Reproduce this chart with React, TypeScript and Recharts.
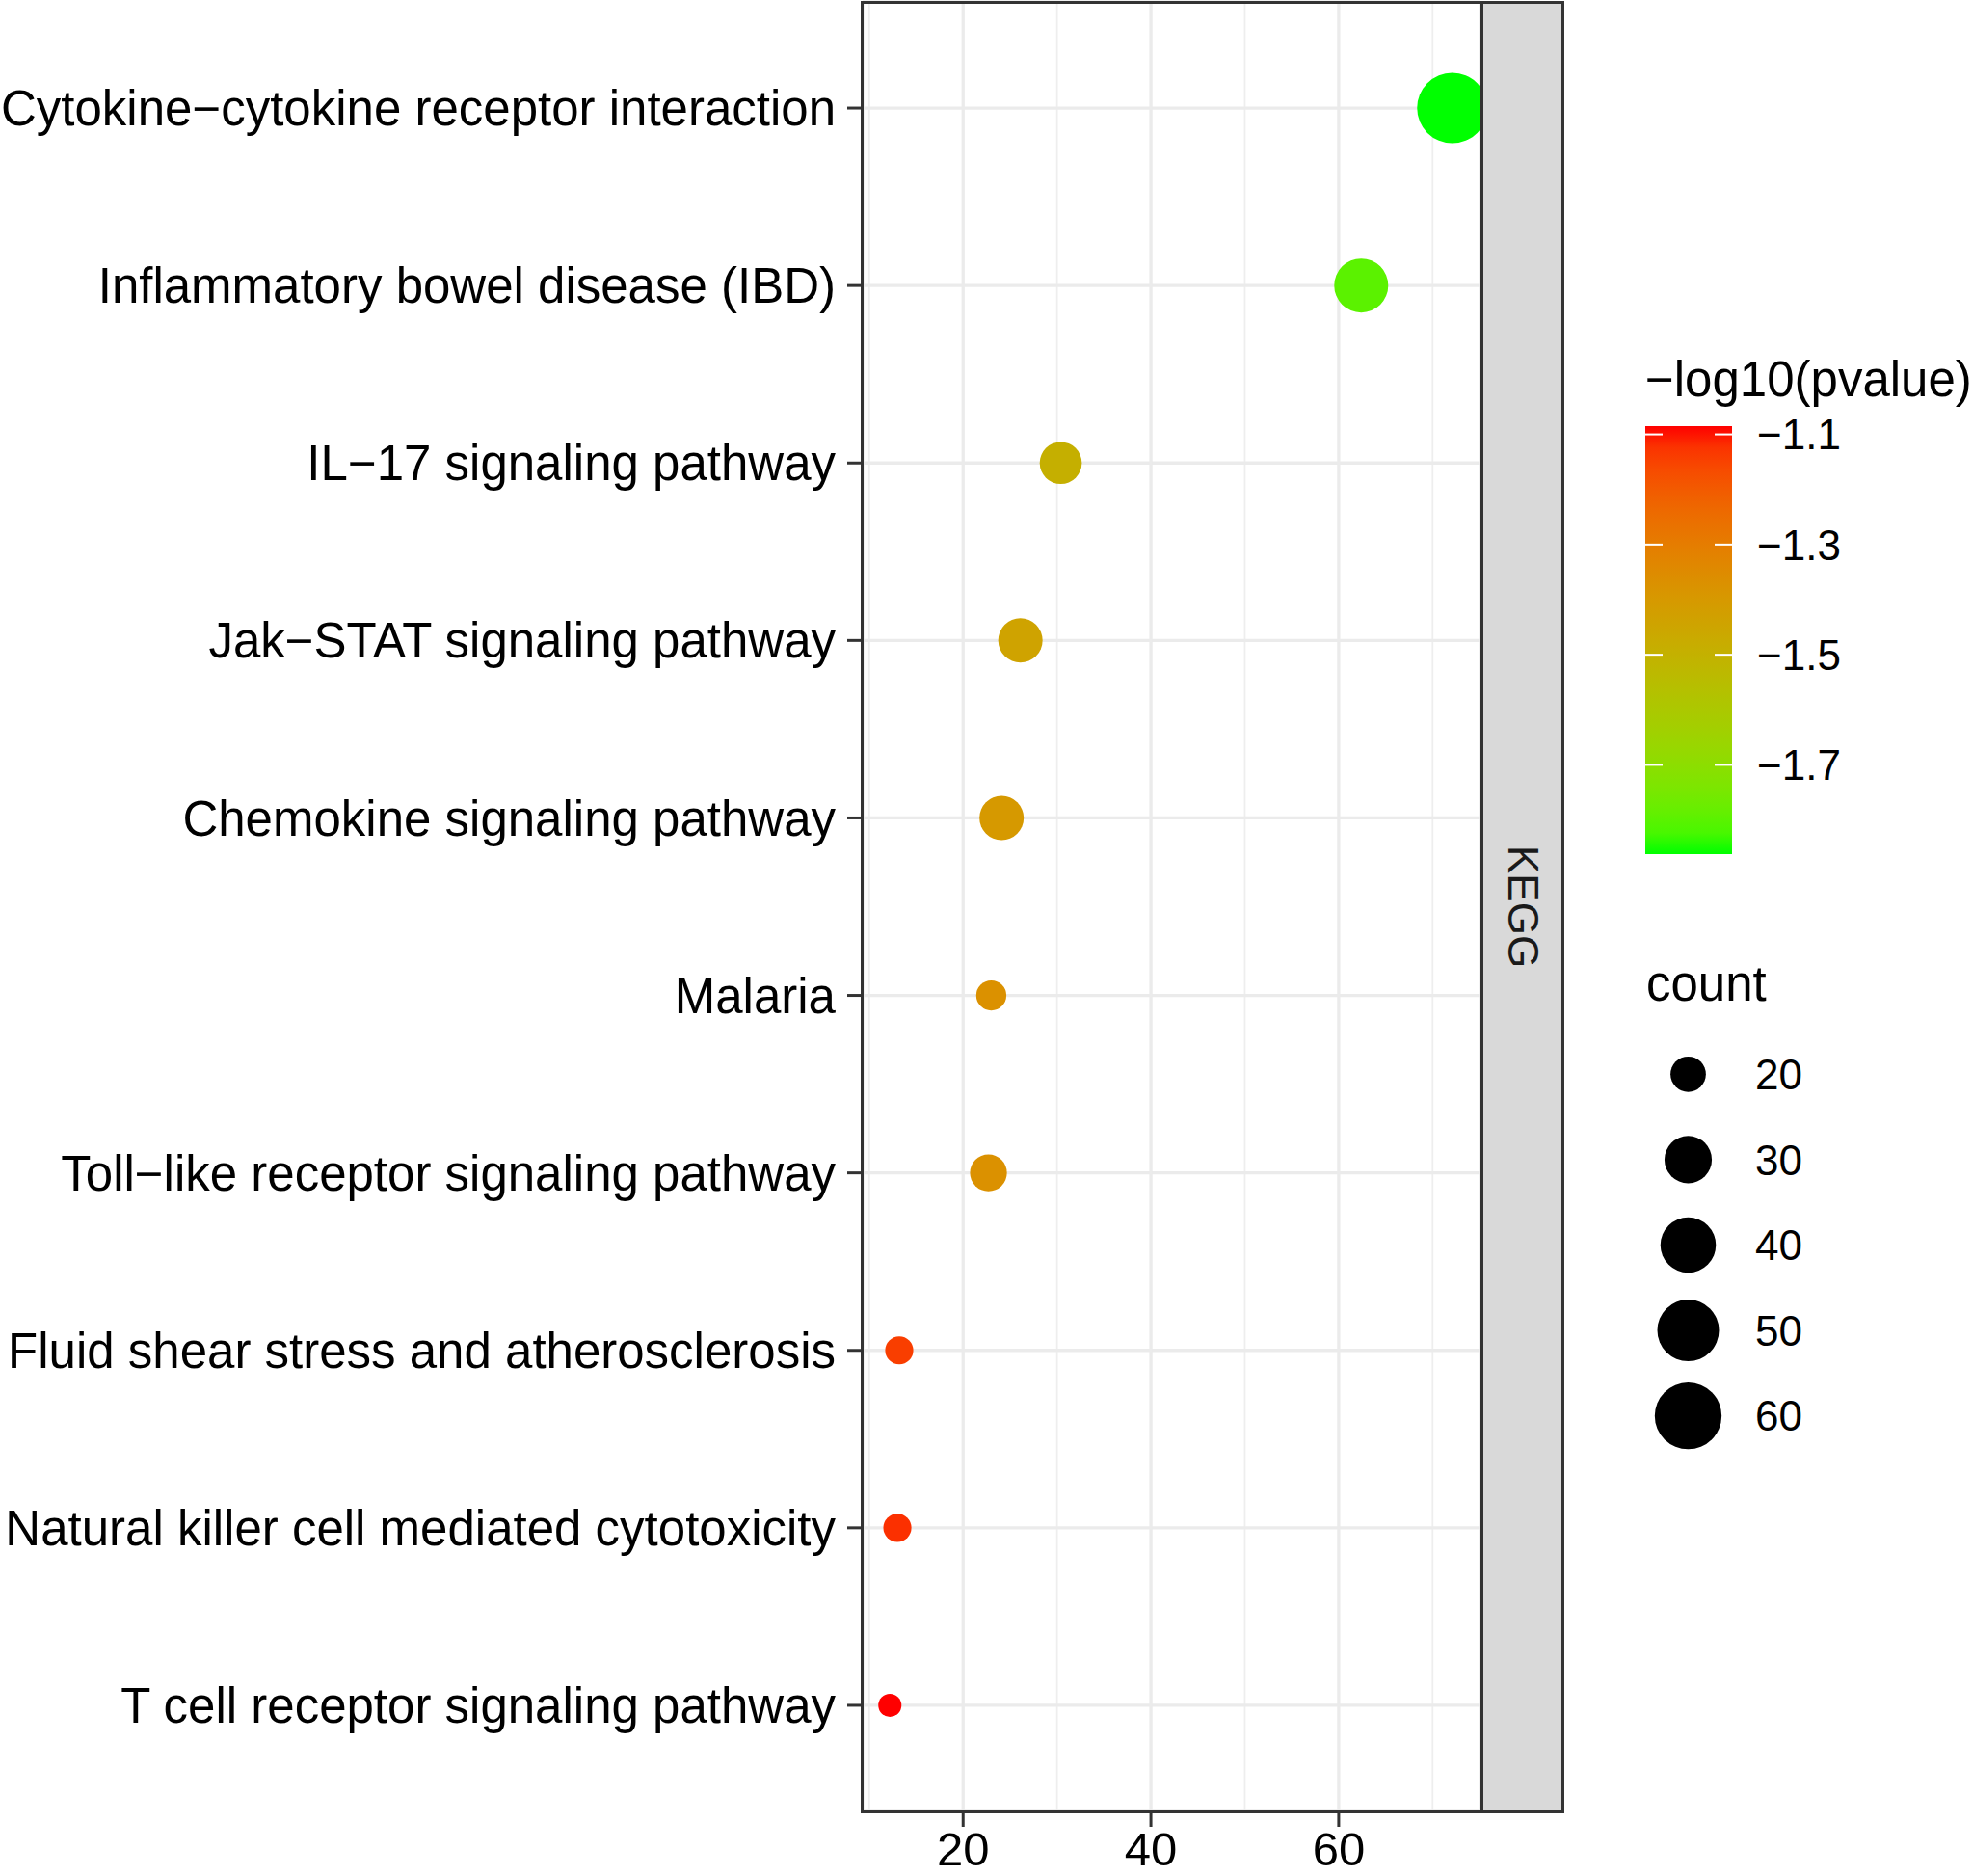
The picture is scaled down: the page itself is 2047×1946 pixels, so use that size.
import React from 'react';
import { ScatterChart, Scatter, XAxis, YAxis, ZAxis, CartesianGrid, Cell } from 'recharts';

const terms = [
  'Cytokine−cytokine receptor interaction',
  'Inflammatory bowel disease (IBD)',
  'IL−17 signaling pathway',
  'Jak−STAT signaling pathway',
  'Chemokine signaling pathway',
  'Malaria',
  'Toll−like receptor signaling pathway',
  'Fluid shear stress and atherosclerosis',
  'Natural killer cell mediated cytotoxicity',
  'T cell receptor signaling pathway',
];
const xValues = [72.1, 62.4, 30.4, 26.1, 24.1, 23.0, 22.7, 13.2, 13.0, 12.2];
const counts = [68, 38, 25, 27, 27, 17, 21, 16, 16, 14];
const logP = [-1.862, -1.8, -1.49, -1.44, -1.4, -1.37, -1.37, -1.14, -1.12, -1.085];

const xTicks = [20, 40, 60];
const xMinorTicks = [10, 30, 50, 70];
const colorTicks = [-1.1, -1.3, -1.5, -1.7];
const sizeLegend = [20, 30, 40, 50, 60];

const FONT = "'Liberation Sans', Arial, Helvetica, sans-serif";
const countDomain = [Math.min(...counts), Math.max(...counts)];
const pMin = Math.min(...logP);
const pMax = Math.max(...logP);

// ggplot-like gradient: green (low) -> red (high), interpolated in Lab
const toLin = (c: number) => (c <= 0.04045 ? c / 12.92 : Math.pow((c + 0.055) / 1.055, 2.4));
const toGam = (c: number) => (c <= 0.0031308 ? 12.92 * c : 1.055 * Math.pow(c, 1 / 2.4) - 0.055);
const fLab = (t: number) => (t > 0.008856 ? Math.cbrt(t) : 7.787 * t + 16 / 116);
const fInv = (t: number) => (t * t * t > 0.008856 ? t * t * t : (t - 16 / 116) / 7.787);

function rgbToLab(rgb: number[]) {
  const [r, g, b] = rgb.map((c) => toLin(c / 255));
  const x = (0.4124 * r + 0.3576 * g + 0.1805 * b) / 0.95047;
  const y = 0.2126 * r + 0.7152 * g + 0.0722 * b;
  const z = (0.0193 * r + 0.1192 * g + 0.9505 * b) / 1.08883;
  const fx = fLab(x), fy = fLab(y), fz = fLab(z);
  return [116 * fy - 16, 500 * (fx - fy), 200 * (fy - fz)];
}

function labToHex(L: number, a: number, bb: number) {
  const fy = (L + 16) / 116;
  const fx = fy + a / 500;
  const fz = fy - bb / 200;
  const x = 0.95047 * fInv(fx), y = fInv(fy), z = 1.08883 * fInv(fz);
  const r = 3.2406 * x - 1.5372 * y - 0.4986 * z;
  const g = -0.9689 * x + 1.8758 * y + 0.0415 * z;
  const b = 0.0557 * x - 0.204 * y + 1.057 * z;
  const hex = (c: number) => {
    const v = Math.round(Math.min(1, Math.max(0, toGam(c))) * 255);
    return v.toString(16).padStart(2, '0');
  };
  return '#' + hex(r) + hex(g) + hex(b);
}

const LOW = rgbToLab([0, 255, 0]);
const HIGH = rgbToLab([255, 0, 0]);

function colorFor(v: number) {
  const t = (v - pMin) / (pMax - pMin);
  return labToHex(
    LOW[0] + (HIGH[0] - LOW[0]) * t,
    LOW[1] + (HIGH[1] - LOW[1]) * t,
    LOW[2] + (HIGH[2] - LOW[2]) * t,
  );
}

const points = terms.map((term, i) => ({ term, x: xValues[i], count: counts[i], logP: logP[i] }));
const sizeData = sizeLegend.map((c) => ({ pos: 0.5, count: c }));

const tickLineStyle = { stroke: '#333333', strokeWidth: 3 };

const ColorLegend = () => {
  const barTop = 82;
  const barH = 444;
  const yOf = (v: number) => barTop + ((pMax - v) / (pMax - pMin)) * barH;
  const stops = Array.from({ length: 21 }, (_, i) => i / 20);
  return (
    <svg width={347} height={540} style={{ position: 'absolute', left: 1700, top: 360 }}>
      <defs>
        <linearGradient id="pbar" x1="0" y1="0" x2="0" y2="1">
          {stops.map((s) => (
            <stop key={s} offset={s} stopColor={colorFor(pMax - s * (pMax - pMin))} />
          ))}
        </linearGradient>
      </defs>
      <text x={7} y={51} fontSize={51} fontFamily={FONT} fill="#000">−log10(pvalue)</text>
      <rect x={7} y={barTop} width={90} height={barH} fill="url(#pbar)" />
      {colorTicks.map((v) => (
        <g key={v}>
          <line x1={7} x2={25} y1={yOf(v)} y2={yOf(v)} stroke="#fff" strokeWidth={2} />
          <line x1={79} x2={97} y1={yOf(v)} y2={yOf(v)} stroke="#fff" strokeWidth={2} />
          <text x={123} y={yOf(v)} dy="0.36em" fontSize={44} fontFamily={FONT} fill="#000">
            {v.toFixed(1).replace('-', '−')}
          </text>
        </g>
      ))}
    </svg>
  );
};

const SizeLegend = () => (
  <div style={{ position: 'absolute', left: 1700, top: 980 }}>
    <div style={{ position: 'absolute', left: 8, top: 15, fontSize: 51, fontFamily: FONT, lineHeight: 1, color: '#000' }}>
      count
    </div>
    <div style={{ position: 'absolute', left: 0, top: 80 }}>
      <ScatterChart width={303} height={470} margin={{ top: 0, right: 0, bottom: 0, left: 0 }}>
        <XAxis type="number" dataKey="pos" domain={[0, 1]} hide height={0} />
        <YAxis
          type="category"
          dataKey="count"
          orientation="right"
          width={200}
          reversed
          axisLine={false}
          tickLine={false}
          tickSize={0}
          tickMargin={18}
          padding={{ top: 10, bottom: 17 }}
          interval={0}
          tick={{ fill: '#000', fontSize: 44, fontFamily: FONT }}
        />
        <ZAxis type="number" dataKey="count" domain={countDomain} range={[453, 4192]} scale="sqrt" />
        <Scatter data={sizeData} fill="#000" isAnimationActive={false} />
      </ScatterChart>
    </div>
  </div>
);

export default function App() {
  return (
    <div style={{ position: 'absolute', left: 0, top: 0, width: 2047, height: 1946, background: '#fff', overflow: 'hidden' }}>
      <ScatterChart width={2047} height={1946} margin={{ top: 2, right: 511, bottom: 0, left: 0 }}>
        <CartesianGrid horizontal={false} verticalValues={xMinorTicks} stroke="#EEEEEE" strokeWidth={1.8} />
        <CartesianGrid stroke="#EBEBEB" strokeWidth={3.3} />
        <XAxis
          type="number"
          dataKey="x"
          domain={[9.3, 75.1]}
          ticks={xTicks}
          allowDataOverflow
          height={67}
          axisLine={false}
          tickSize={16}
          tickMargin={5}
          tickLine={tickLineStyle}
          interval={0}
          tick={{ fill: '#000', fontSize: 49, fontFamily: FONT }}
        />
        <YAxis
          type="category"
          dataKey="term"
          width={895}
          reversed
          padding={{ top: 18, bottom: 18 }}
          axisLine={false}
          tickSize={16}
          tickMargin={12}
          tickLine={tickLineStyle}
          interval={0}
          tick={{ fill: '#000', fontSize: 51, fontFamily: FONT }}
        />
        <ZAxis type="number" dataKey="count" domain={countDomain} range={[453, 4192]} scale="sqrt" />
        <Scatter data={points} isAnimationActive={false}>
          {points.map((p) => (
            <Cell key={p.term} fill={colorFor(p.logP)} />
          ))}
        </Scatter>
      </ScatterChart>
      {/* panel border */}
      <div style={{ position: 'absolute', left: 893, top: 1, width: 645, height: 1880, border: '3px solid #333', boxSizing: 'border-box', pointerEvents: 'none' }} />
      {/* facet strip */}
      <div
        style={{
          position: 'absolute', left: 1536, top: 1, width: 87, height: 1880, background: '#D9D9D9',
          border: '3px solid #333', boxSizing: 'border-box', display: 'flex', alignItems: 'center', justifyContent: 'center',
        }}
      >
        <span style={{ writingMode: 'vertical-rl', fontSize: 44, fontFamily: FONT, color: '#1A1A1A' }}>KEGG</span>
      </div>
      <ColorLegend />
      <SizeLegend />
    </div>
  );
}
